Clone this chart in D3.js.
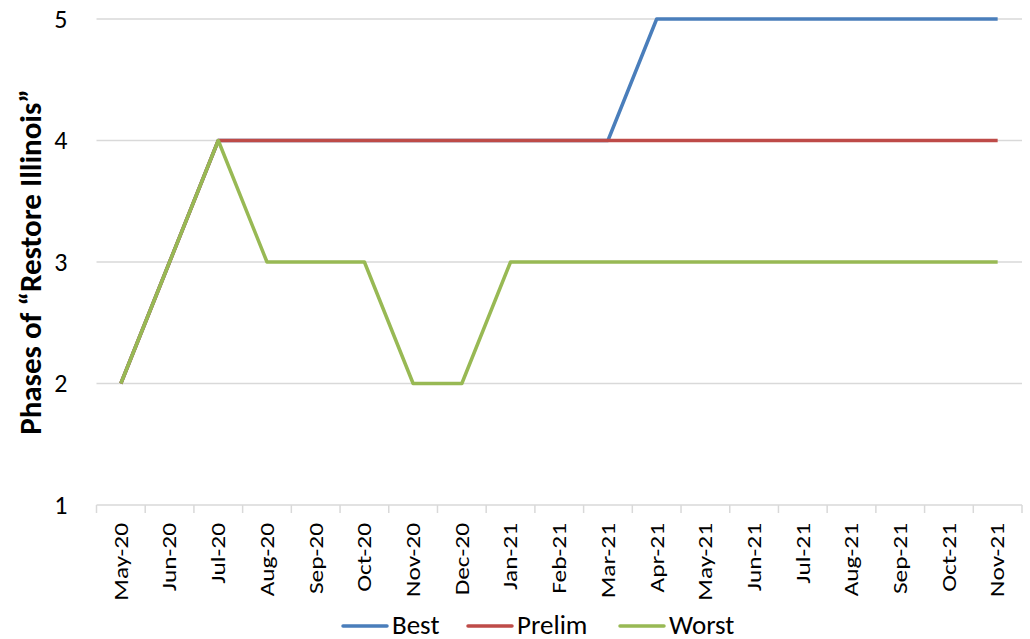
<!DOCTYPE html>
<html>
<head>
<meta charset="utf-8">
<script src="https://cdn.jsdelivr.net/npm/d3@7"></script>
<style>
  body { margin: 0; background: #fff; }
  text { font-family: Carlito, Calibri, Lato, sans-serif; fill: #000; }
</style>
</head>
<body>
<div id="chart"></div>
<script>
// data
var months = ["May-20","Jun-20","Jul-20","Aug-20","Sep-20","Oct-20","Nov-20","Dec-20","Jan-21","Feb-21",
              "Mar-21","Apr-21","May-21","Jun-21","Jul-21","Aug-21","Sep-21","Oct-21","Nov-21"];
var best   = [2,3,4,4,4,4,4,4,4,4,4,5,5,5,5,5,5,5,5];
var prelim = [2,3,4,4,4,4,4,4,4,4,4,4,4,4,4,4,4,4,4];
var worst  = [2,3,4,3,3,3,2,2,3,3,3,3,3,3,3,3,3,3,3];
var yTicks = [1,2,3,4,5];

var series = [
  {name: "Best",   values: best,   color: "#4a7ebb"},
  {name: "Prelim", values: prelim, color: "#be4b48"},
  {name: "Worst",  values: worst,  color: "#98b954"}
];

var W = 1030, H = 639;
var margin = {top: 19, right: 8, bottom: 134, left: 96.5};

var svg = d3.select("#chart").append("svg")
  .attr("width", W).attr("height", H);

var g = svg.append("g")
  .attr("transform", "translate(" + margin.left + "," + margin.top + ")");

var width = W - margin.left - margin.right,
    height = H - margin.top - margin.bottom;

var x = d3.scaleBand().domain(months).range([0, width]);
var y = d3.scaleLinear().domain([1, 5]).range([height, 0]);

// gridlines
g.selectAll(".grid")
  .data(yTicks.filter(function(d) { return d > 1; }))
  .enter().append("line")
    .attr("x1", 0).attr("x2", width)
    .attr("y1", function(d) { return y(d); })
    .attr("y2", function(d) { return y(d); })
    .style("stroke", "#d9d9d9")
    .style("stroke-width", 1.5);

// y axis labels
g.selectAll(".ylab")
  .data(yTicks)
  .enter().append("text")
    .attr("x", -29)
    .attr("y", function(d) { return y(d); })
    .attr("dy", "0.33em")
    .attr("text-anchor", "end")
    .style("font-size", "26px")
    .text(function(d) { return d; });

// x axis line and ticks at band edges
g.append("line")
  .attr("x1", 0).attr("x2", width)
  .attr("y1", height).attr("y2", height)
  .style("stroke", "#d9d9d9").style("stroke-width", 1.5);

var edges = months.map(function(m) { return x(m); }).concat([width]);
g.selectAll(".tick")
  .data(edges)
  .enter().append("line")
    .attr("x1", function(d) { return d; }).attr("x2", function(d) { return d; })
    .attr("y1", height).attr("y2", height + 8)
    .style("stroke", "#d9d9d9").style("stroke-width", 1.5);

// x labels (stretched along their length like the original)
g.selectAll(".xlab")
  .data(months)
  .enter().append("text")
    .attr("transform", function(d) {
      return "translate(" + (x(d) + x.bandwidth() / 2) + "," + (height + 18) + ") rotate(-90) scale(1.3,1)";
    })
    .attr("dy", "0.35em")
    .attr("text-anchor", "end")
    .style("font-size", "19.5px")
    .text(function(d) { return d; });

// y axis title
svg.append("text")
  .attr("transform", "translate(41,262) rotate(-90)")
  .attr("text-anchor", "middle")
  .style("font-size", "31px")
  .style("font-weight", "bold")
  .text("Phases of \u201cRestore Illinois\u201d");

// lines
var line = d3.line()
  .x(function(d, i) { return x(months[i]) + x.bandwidth() / 2; })
  .y(function(d) { return y(d); });

g.selectAll(".series")
  .data(series)
  .enter().append("path")
    .attr("d", function(d) { return line(d.values); })
    .style("fill", "none")
    .style("stroke", function(d) { return d.color; })
    .style("stroke-width", 3.5)
    .style("stroke-linejoin", "round");

// legend
var legendX = [343, 468, 620];
var legend = svg.selectAll(".legend")
  .data(series)
  .enter().append("g")
    .attr("transform", function(d, i) { return "translate(" + legendX[i] + ",626)"; });

legend.append("line")
  .attr("x1", 0).attr("x2", 44)
  .style("stroke", function(d) { return d.color; })
  .style("stroke-width", 3.5)
  .style("stroke-linecap", "round");

legend.append("text")
  .attr("x", 49)
  .attr("y", 7.5)
  .style("font-size", "27px")
  .text(function(d) { return d.name; });
</script>
</body>
</html>
